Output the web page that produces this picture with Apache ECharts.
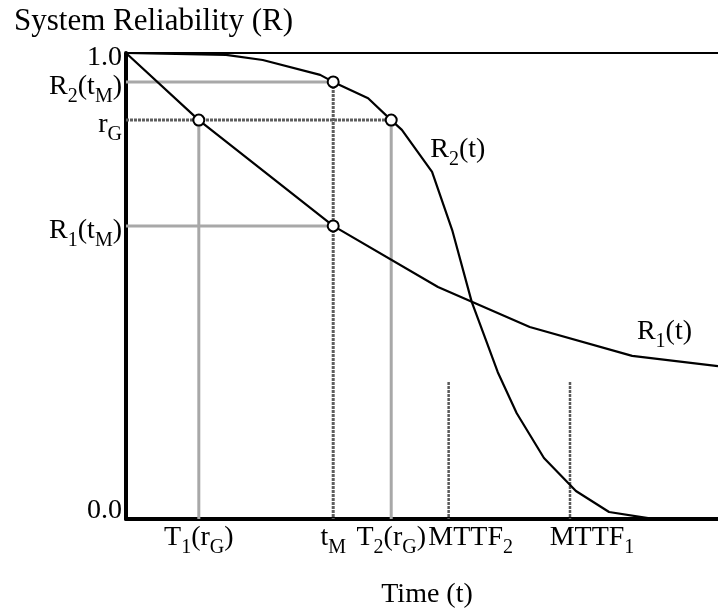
<!DOCTYPE html>
<html>
<head>
<meta charset="utf-8">
<script src="https://cdn.jsdelivr.net/npm/echarts@6/dist/echarts.min.js"></script>
<style>
html,body{margin:0;padding:0;background:#fff;}
#c{width:718px;height:615px;}
</style>
</head>
<body>
<div id="c"></div>
<script>
// ---- data ----
const curveT1 = [0, 12.3, 35, 52.7, 68.2, 85.5, 100];
const curveR1 = [1.0, 0.856, 0.629, 0.498, 0.412, 0.35, 0.328];
const curveT2 = [0, 16.9, 23.1, 32.8, 35, 40.9, 44.8, 46.6, 51.7, 55.1, 58.4, 60.8, 62.8, 66.0, 70.6, 76.0, 81.6, 88.2, 93.6];
const curveR2 = [1.0, 0.996, 0.985, 0.953, 0.938, 0.903, 0.856, 0.835, 0.745, 0.620, 0.466, 0.384, 0.315, 0.227, 0.131, 0.060, 0.015, 0.002, 0];

const tT1 = 12.3, tM = 35, tT2 = 44.8, tMTTF2 = 54.5, tMTTF1 = 75;
const rR2tM = 0.938, rG = 0.856, rR1tM = 0.629, rMTTFtop = 0.294;

const xTickValues = [tT1, tM, tT2, tMTTF2, tMTTF1];
const xTickLabels = ['T_1(r_G)', 't_M', 'T_2(r_G)', 'MTTF_2', 'MTTF_1'];
const yTickValues = [0, rR1tM, rG, rR2tM, 1];
const yTickLabels = ['0.0', 'R_1(t_M)', 'r_G', 'R_2(t_M)', '1.0'];
const curveNames = ['R_1(t)', 'R_2(t)'];

// ---- helpers ----
function toRich(label, first, nName, sName, last) {
  nName = nName || 'n'; sName = sName || 's';
  const parts = [];
  let buf = '';
  for (let i = 0; i < label.length; i++) {
    if (label[i] === '_') {
      if (buf) parts.push([nName, buf]);
      buf = '';
      parts.push([sName, label[i + 1]]);
      i++;
    } else buf += label[i];
  }
  if (buf) parts.push([nName, buf]);
  if (first) parts[0][0] = first;
  if (last) parts[parts.length - 1][0] = last;
  return parts.map(p => '{' + p[0] + '|' + p[1] + '}').join('');
}
const FONT = '"Liberation Serif", "Times New Roman", serif';
const FS = 28, SFS = 20;
function tok(extra) {
  return Object.assign({ fontFamily: FONT, fontSize: FS, lineHeight: 30, color: '#000', verticalAlign: 'top' }, extra || {});
}
const richStyles = {
  n: tok(),
  m: tok({ padding: [0, 0, 0, 22] }),
  ms: tok({ fontSize: SFS, lineHeight: 20, padding: [14, -22, 0, 0] }),
  s: tok({ fontSize: SFS, lineHeight: 20, padding: [14, 0, 0, 0] }),
  ny: tok({ lineHeight: 26, padding: [4, 0, 0, 0] }),
  sy: tok({ fontSize: SFS, lineHeight: 20, padding: [18, 0, 0, 0] }),
  one: tok({ lineHeight: 26, padding: [4, 0, 0, 0] }),
  z: tok({ lineHeight: 45 })
};
function pair(xs, ys) { return xs.map((x, i) => [x, ys[i]]); }
function yLabel(v) {
  const i = yTickValues.indexOf(v);
  if (i < 0) return '';
  const l = yTickLabels[i];
  if (v === 0) return '{z|' + l + '}';
  if (v === 1) return '{one|' + l + '}';
  return toRich(l, null, 'ny', 'sy');
}

const GRID_LIGHT = { color: '#a8a8a8', width: 3, type: 'solid' };
const GRID_DARK = { color: '#5e5e5e', width: 3, type: [3, 1] };
const GRID_DARK_THIN = { color: '#5a5a5a', width: 2.5, type: [3, 1] };

function guide(data, style) {
  return { type: 'line', data: data, showSymbol: false, symbol: 'none', lineStyle: style, z: 1, silent: true };
}

const yAxisBase = {
  type: 'value', min: 0, max: 1, position: 'left',
  axisTick: { show: false },
  splitLine: { show: false }
};

const chart = echarts.init(document.getElementById('c'), null, { renderer: 'canvas' });
chart.setOption({
  animation: false,
  backgroundColor: '#fff',
  title: {
    text: 'System Reliability (R)', left: 9, top: 1,
    textStyle: { fontFamily: FONT, fontSize: 31, fontWeight: 'normal', color: '#000' }
  },
  grid: { left: 126, right: 0, top: 53, bottom: 96 },
  xAxis: {
    type: 'value', min: 0, max: 100,
    name: 'Time (t)', nameLocation: 'middle', nameGap: 62,
    nameTextStyle: { fontFamily: FONT, fontSize: 28, color: '#000', padding: [0, 0, 0, 10] },
    axisLine: { show: true, lineStyle: { color: '#000', width: 4 } },
    axisTick: { show: false },
    splitLine: { show: false },
    axisLabel: {
      customValues: xTickValues, margin: 5, color: '#000',
      showMinLabel: true, showMaxLabel: true, hideOverlap: false,
      formatter: function (v) {
        const i = xTickValues.indexOf(v);
        if (i < 0) return '';
        const l = xTickLabels[i];
        return l.indexOf('MTTF') === 0 ? toRich(l, 'm', null, null, 'ms') : toRich(l);
      },
      rich: richStyles
    }
  },
  yAxis: [
    Object.assign({}, yAxisBase, {
      axisLine: { show: true, onZero: false, lineStyle: { color: '#000', width: 4 } },
      axisLabel: {
        customValues: yTickValues.filter(v => v < 1), margin: 4, color: '#000',
        showMinLabel: true, showMaxLabel: true, hideOverlap: false,
        formatter: yLabel, rich: richStyles
      }
    }),
    Object.assign({}, yAxisBase, {
      offset: 0,
      axisLine: { show: false },
      axisLabel: {
        customValues: yTickValues.filter(v => v >= 1), margin: 4, color: '#000',
        showMinLabel: true, showMaxLabel: true, hideOverlap: false,
        formatter: yLabel, rich: richStyles
      }
    })
  ],
  series: [
    // top frame line
    guide([[0, 1], [100, 1]], { color: '#000', width: 2 }),
    // reference lines
    guide([[0, rR2tM], [tM, rR2tM]], GRID_LIGHT),
    guide([[0, rR1tM], [tM, rR1tM]], GRID_LIGHT),
    guide([[tT1, rG], [tT1, 0]], GRID_LIGHT),
    guide([[tT2, rG], [tT2, 0]], GRID_LIGHT),
    guide([[0, rG], [tT2, rG]], GRID_DARK),
    guide([[tM, rR2tM], [tM, 0]], GRID_DARK),
    guide([[tMTTF2, rMTTFtop], [tMTTF2, 0]], GRID_DARK_THIN),
    guide([[tMTTF1, rMTTFtop], [tMTTF1, 0]], GRID_DARK_THIN),
    // curves
    {
      type: 'line', name: 'R1', data: pair(curveT1, curveR1), showSymbol: false, symbol: 'none',
      lineStyle: { color: '#000', width: 2.2 }, z: 3
    },
    {
      type: 'line', name: 'R2', data: pair(curveT2, curveR2), showSymbol: false, symbol: 'none',
      lineStyle: { color: '#000', width: 2.2 }, z: 3
    },
    // open circles
    {
      type: 'scatter', data: [[tT1, rG], [tM, rR1tM], [tM, rR2tM], [tT2, rG]],
      symbol: 'circle', symbolSize: 11,
      itemStyle: { color: '#fff', borderColor: '#000', borderWidth: 2, opacity: 1 }, z: 5
    },
    // curve name labels
    {
      type: 'scatter', symbolSize: 0, z: 6, silent: true,
      itemStyle: { opacity: 1 },
      data: [
        { value: [86.3, 0.40], name: curveNames[0] },
        { value: [51.4, 0.79], name: curveNames[1] }
      ],
      label: {
        show: true, position: 'right', distance: 0, color: '#000',
        formatter: function (p) { return toRich(p.name); },
        rich: richStyles
      }
    }
  ]
});
</script>
</body>
</html>
